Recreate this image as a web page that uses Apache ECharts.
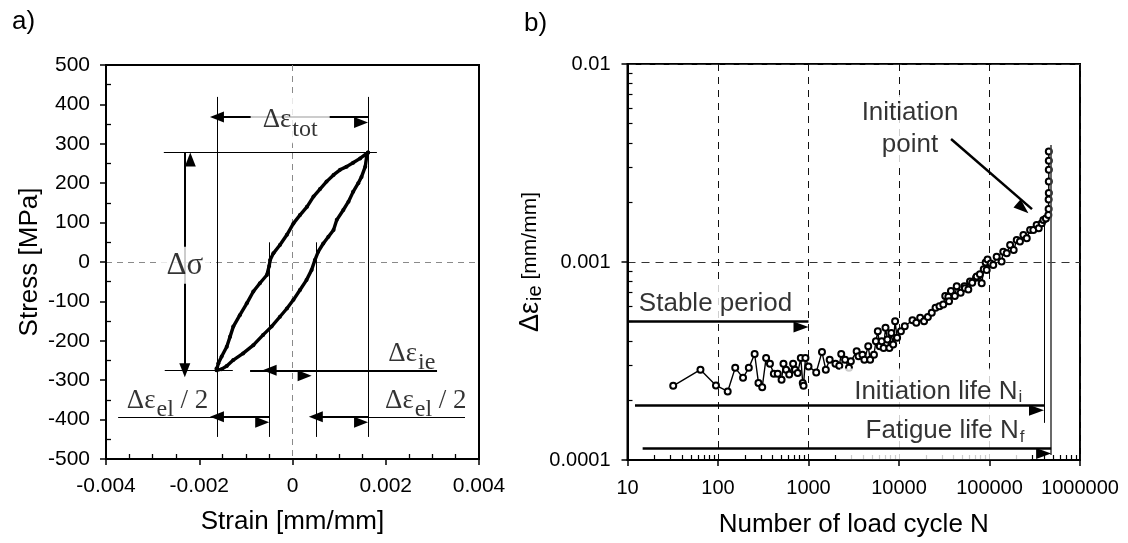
<!DOCTYPE html>
<html><head><meta charset="utf-8">
<script src="https://cdn.jsdelivr.net/npm/echarts@6/dist/echarts.min.js"></script>
<style>html,body{margin:0;padding:0;background:#fff}#c{width:1128px;height:543px}</style>
</head><body><div id="c"></div>
<script>
// ===== Panel a) : stress-strain hysteresis loop =====
const loopStrain = [0.00162, 0.00159, 0.00156, 0.00148, 0.00141, 0.0013, 0.0012, 0.00109, 0.00095, 0.00088, 0.00077, 0.00066, 0.00055, 0.00048, 0.00041, 0.0003, 0.00016, 0.00002, -0.00012, -0.00027, -0.00045, -0.00063, -0.00084, -0.00106, -0.00127, -0.00141, -0.00152, -0.00163,
  -0.00163, -0.00159, -0.00152, -0.00141, -0.00134, -0.00127, -0.00113, -0.00098, -0.00084, -0.0007, -0.00055, -0.0005, -0.00048, -0.00041, -0.00027, -0.00012, 0.00002, 0.00016, 0.00031, 0.00045, 0.00059, 0.00073, 0.00088, 0.00102, 0.00116, 0.0013, 0.00145, 0.00162];
const loopStress = [278, 267, 242, 216, 200, 178, 153, 132, 107, 81, 64, 47, 26, 5, -20, -46, -71, -96, -118, -139, -164, -185, -211, -232, -249, -264, -272, -275,
  -270, -257, -240, -215, -190, -164, -135, -105, -75, -54, -33, -10, 5, 22, 43, 69, 98, 119, 140, 166, 185, 204, 221, 234, 242, 252, 263, 278];
const strainTicks = ['-0.004', '-0.002', '0', '0.002', '0.004'];
// annotation guide segments [x1, y1, x2, y2]
const guidesA = [
  [-0.00162, 419, -0.00162, -444],
  [0.00162, 419, 0.00162, -444],
  [-0.0005, 50, -0.0005, -444],
  [0.0005, 50, 0.0005, -444],
  [-0.00276, 278, 0.00181, 278],
  [-0.00274, -275, -0.00128, -275],
  [-0.00374, -393, -0.00162, -393],
  [0.00162, -393, 0.0037, -393]
];
const ieLine = [-0.00091, -275, 0.0031, -275];
const arrowsA = [
  [-0.00162, 368, 0.00162, 368],
  [-0.00231, -275, -0.00231, 278],
  [-0.00049, -275, 0.00041, -275],
  [-0.00162, -393, -0.0005, -393],
  [0.0005, -393, 0.00162, -393]
];
const textsA = [
  { x: -0.00005, y: 362, t: '{a|Δε}{b|tot}', pad: [4, 12, 2, 12] },
  { x: -0.00231, y: -8, t: '{c|Δσ}', pad: [4, 7, 2, 7] },
  { x: 0.00256, y: -232, t: '{a|Δε}{b|ie}', pad: null },
  { x: -0.00268, y: -353, t: '{a|Δε}{b|el}{a| / 2}', pad: null },
  { x: 0.00286, y: -353, t: '{a|Δε}{b|el}{a| / 2}', pad: null }
];

// ===== Panel b) : inelastic strain range vs cycles =====
const cycles = [32, 64, 95, 128, 155, 189, 219, 254, 280, 308, 340, 375, 414, 457, 504, 529, 566, 612, 676, 710,
  760, 822, 864, 881, 925, 1000, 1217, 1409, 1553, 1714, 1986, 2188, 2300, 2536, 2799, 2938, 3404, 3573, 3945, 4142,
  4572, 4800, 5289, 5556, 5834, 6125, 6438, 6760, 7096, 7447, 7834, 8222, 8630, 9057, 9528, 10500, 11580, 14090, 15530, 17140,
  18920, 20850, 23010, 25350, 28000, 30830, 32430, 35100, 35730, 37500, 41400, 43450, 47970, 52840, 53600, 58340, 60900, 64400, 70970, 72200,
  78340, 82000, 86360, 90630, 93100, 95200, 103000, 110000, 120000, 136000, 142000, 155000, 169000, 185000, 200000, 217000, 237000, 258000, 281000, 305000,
  332000, 350000, 378000, 394000, 420000, 447000, 450000, 450000, 452000, 452000, 452000, 452000, 452000];
const strainRange = [2.37e-4, 2.86e-4, 2.38e-4, 2.22e-4, 2.92e-4, 2.60e-4, 2.92e-4, 3.43e-4, 2.45e-4, 2.33e-4, 3.27e-4, 3.06e-4, 2.73e-4, 2.73e-4, 2.54e-4, 3.06e-4, 2.86e-4, 2.70e-4, 3.06e-4, 2.86e-4,
  2.75e-4, 3.27e-4, 2.45e-4, 2.37e-4, 3.27e-4, 2.97e-4, 2.77e-4, 3.51e-4, 2.86e-4, 3.21e-4, 3.06e-4, 2.99e-4, 3.43e-4, 3.21e-4, 2.92e-4, 3.15e-4, 3.54e-4, 3.34e-4, 3.40e-4, 3.21e-4,
  3.75e-4, 3.21e-4, 3.40e-4, 3.98e-4, 4.47e-4, 3.75e-4, 3.98e-4, 3.68e-4, 4.65e-4, 4.06e-4, 3.68e-4, 4.38e-4, 3.83e-4, 5.02e-4, 4.14e-4, 4.47e-4, 4.74e-4, 5.08e-4, 4.93e-4, 5.23e-4,
  5.02e-4, 5.28e-4, 5.54e-4, 5.87e-4, 5.98e-4, 6.10e-4, 6.73e-4, 6.68e-4, 6.34e-4, 7.13e-4, 6.73e-4, 7.55e-4, 7.00e-4, 7.55e-4, 7.37e-4, 7.27e-4, 7.96e-4, 7.86e-4, 8.33e-4, 8.44e-4,
  8.66e-4, 7.80e-4, 9.18e-4, 9.93e-4, 9.12e-4, 1.03e-3, 9.84e-4, 9.66e-4, 1.064e-3, 1.005e-3, 1.127e-3, 1.107e-3, 1.219e-3, 1.15e-3, 1.291e-3, 1.27e-3, 1.368e-3, 1.32e-3, 1.452e-3, 1.45e-3,
  1.538e-3, 1.48e-3, 1.57e-3, 1.63e-3, 1.66e-3, 1.726e-3, 1.85e-3, 2.07e-3, 2.23e-3, 2.55e-3, 2.92e-3, 3.25e-3, 3.62e-3];
const cycleTickLabels = ['10', '100', '1000', '10000', '100000', '1000000'];
const rangeTickLabels = ['0.0001', '0.001', '0.01'];
const cycleDecades = [10, 100, 1000, 10000, 100000];
const rangeDecades = [0.0001, 0.001];
const minorMultipliers = [2, 3, 4, 5, 6, 7, 8, 9];
const Ni = 400000, Nf = 480000;
const niLine = [Ni, 1.6e-3, Ni, 1.54e-4];
const nfLine = [Nf, 3.9e-3, Nf, 1.06e-4];
const arrowsB = [
  [10, 5e-4, 1000, 5e-4],
  [12.1, 1.9e-4, Ni, 1.9e-4],
  [14.7, 1.15e-4, Nf, 1.15e-4],
  [37600, 4.18e-3, 295000, 1.85e-3]
];
const textsB = [
  { x: 93.8, y: 6.14e-4, t: '{m|Stable period}', pad: [3, 6, 3, 6] },
  { x: 24500, y: 2.26e-4, t: '{m|Initiation life N}{s|i}', pad: [7, 6, 4, 14] },
  { x: 25000, y: 1.35e-4, t: '{m|Fatigue life N}{s|f}', pad: [6, 6, 12, 26] },
  { x: 13250, y: 4.70e-3, t: '{m|Initiation}\n{m|point}', pad: [2, 4, 2, 4] }
];

// ---------- build ----------
const minorX = [], minorY = [];
cycleDecades.forEach(d => minorMultipliers.forEach(m => minorX.push(d * m)));
rangeDecades.forEach(d => minorMultipliers.forEach(m => minorY.push(+(d * m).toPrecision(3))));

const K = '#000';
const FONT = 'Liberation Sans';
const SERIF = 'Liberation Serif';
function seg(s, style, sym1, sym2) {
  return [{ coord: [s[0], s[1]], symbol: sym1 || 'none', lineStyle: style },
          { coord: [s[2], s[3]], symbol: sym2 || 'none' }];
}
const thin = { color: K, width: 1, type: 'solid' };
const arrowStyle = { color: K, width: 2, type: 'solid' };

const mainAxis = (extra) => Object.assign({
  axisLine: { show: true, onZero: false, lineStyle: { color: K, width: 2 } },
  axisTick: { show: true, inside: false, length: 6, lineStyle: { color: K, width: 1.5 } },
  splitLine: { show: false },
  nameTextStyle: { color: K, fontSize: 26, fontFamily: FONT }
}, extra);
const minorAxis = (extra) => Object.assign({
  axisLine: { show: false, onZero: false },
  axisLabel: { show: false },
  splitLine: { show: false }
}, extra);

const option = {
  animation: false,
  backgroundColor: '#fff',
  textStyle: { fontFamily: FONT },
  graphic: [
    { type: 'text', left: 12, top: 9, style: { text: 'a)', font: '26px "Liberation Sans"', fill: K } },
    { type: 'text', left: 524, top: 11, style: { text: 'b)', font: '26px "Liberation Sans"', fill: K } }
  ],
  grid: [
    { left: 106, top: 65, width: 373, height: 394, show: true, borderColor: K, borderWidth: 2, backgroundColor: 'transparent' },
    { left: 627.5, top: 64, width: 452.5, height: 396, show: true, borderColor: K, borderWidth: 2, backgroundColor: 'transparent' }
  ],
  xAxis: [
    mainAxis({ gridIndex: 0, type: 'value', min: -0.004, max: 0.004, interval: 0.002, position: 'bottom',
      axisLabel: { color: K, fontSize: 21, fontFamily: FONT, margin: 17, formatter: (v, i) => strainTicks[i] },
      name: 'Strain [mm/mm]', nameLocation: 'middle', nameGap: 50 }),
    minorAxis({ gridIndex: 0, type: 'value', min: -0.004, max: 0.004, interval: 0.002, position: 'bottom',
      axisTick: { show: false, inside: true, customValues: [0] },
      minorTick: { show: true, splitNumber: 4, length: 5, lineStyle: { color: K, width: 1.3 } },
      splitLine: { show: true, lineStyle: { color: '#8a8a8a', width: 1, type: [6, 5] } } }),
    mainAxis({ gridIndex: 1, type: 'log', logBase: 10, min: 10, max: 1000000, position: 'bottom',
      axisLabel: { color: K, fontSize: 20, fontFamily: FONT, margin: 18,
        formatter: v => cycleTickLabels[Math.round(Math.log10(v)) - 1] },
      splitLine: { show: true, lineStyle: { color: '#111', width: 1, type: [7, 6] } },
      name: 'Number of load cycle N', nameLocation: 'middle', nameGap: 52 }),
    minorAxis({ gridIndex: 1, type: 'log', logBase: 10, min: 10, max: 1000000, position: 'bottom',
      axisTick: { show: true, inside: true, customValues: minorX, length: 5, lineStyle: { color: K, width: 1.2 } } })
  ],
  yAxis: [
    mainAxis({ gridIndex: 0, type: 'value', min: -500, max: 500, interval: 100, position: 'left',
      axisLabel: { color: K, fontSize: 21, fontFamily: FONT, margin: 16 },
      name: 'Stress [MPa]', nameLocation: 'middle', nameRotate: 90, nameGap: 63 }),
    minorAxis({ gridIndex: 0, type: 'value', min: -500, max: 500, interval: 100, position: 'left',
      axisTick: { show: false, inside: true, customValues: [0] },
      minorTick: { show: true, splitNumber: 2, length: 5, lineStyle: { color: K, width: 1.3 } },
      splitLine: { show: true, lineStyle: { color: '#8a8a8a', width: 1, type: [6, 5] } } }),
    mainAxis({ gridIndex: 1, type: 'log', logBase: 10, min: 0.0001, max: 0.01, position: 'left',
      axisLabel: { color: K, fontSize: 20, fontFamily: FONT, margin: 17,
        formatter: v => rangeTickLabels[Math.round(Math.log10(v)) + 4] },
      splitLine: { show: true, lineStyle: { color: '#333', width: 1, type: [8, 6] } },
      name: '{a|Δε}{b|ie}{c| [mm/mm]}', nameLocation: 'middle', nameRotate: 90, nameGap: 70,
      nameTextStyle: { color: K, rich: {
        a: { fontSize: 27, fontFamily: FONT, color: K },
        b: { fontSize: 20, fontFamily: FONT, color: K, padding: [10, 0, 0, 1] },
        c: { fontSize: 21, fontFamily: FONT, color: K } } } }),
    minorAxis({ gridIndex: 1, type: 'log', logBase: 10, min: 0.0001, max: 0.01, position: 'left',
      axisTick: { show: true, inside: true, customValues: minorY, length: 5, lineStyle: { color: K, width: 1.2 } } })
  ],
  series: [
    {
      type: 'line', xAxisIndex: 0, yAxisIndex: 0, z: 2,
      data: loopStrain.map((x, i) => [x, loopStress[i]]),
      symbol: 'circle', symbolSize: 4, showSymbol: true,
      itemStyle: { color: K },
      lineStyle: { color: K, width: 3.4 },
      markLine: {
        silent: true, label: { show: false }, symbolSize: [11, 14], symbolOffset: [0, '50%'],
        emphasis: { disabled: true },
        data: [].concat(
          guidesA.map(s => seg(s, thin)),
          [seg(ieLine, { color: K, width: 1.8, type: 'solid' })],
          arrowsA.map(s => seg(s, arrowStyle, 'triangle', 'triangle'))
        )
      }
    },
    {
      type: 'scatter', xAxisIndex: 0, yAxisIndex: 0, z: 10, silent: true,
      symbolSize: 0.1, itemStyle: { color: 'transparent' },
      data: textsA.map(o => ({
        value: [o.x, o.y],
        label: {
          show: true, position: 'inside', formatter: o.t, color: K,
          backgroundColor: o.pad ? '#fff' : 'transparent', padding: o.pad || 0,
          rich: {
            a: { fontFamily: SERIF, fontSize: 27, color: K },
            b: { fontFamily: SERIF, fontSize: 24, color: K, padding: [18, 0, 0, 1] },
            c: { fontFamily: SERIF, fontSize: 31, color: K }
          }
        }
      }))
    },
    {
      type: 'line', xAxisIndex: 2, yAxisIndex: 2, z: 2,
      data: cycles.map((n, i) => [n, strainRange[i]]),
      symbol: 'emptyCircle', symbolSize: 6, showSymbol: true,
      itemStyle: { color: K, borderColor: K, borderWidth: 1.3 },
      lineStyle: { color: K, width: 1.4 },
      markLine: {
        silent: true, label: { show: false }, symbolSize: [11, 15], symbolOffset: [0, '50%'],
        emphasis: { disabled: true },
        data: [].concat(
          [seg(niLine, { color: K, width: 1, type: 'solid' })],
          [seg(nfLine, { color: '#444', width: 1.6, type: 'solid' })],
          arrowsB.map(s => seg(s, { color: K, width: 2.5, type: 'solid' }, 'none', 'triangle'))
        )
      }
    },
    {
      type: 'scatter', xAxisIndex: 2, yAxisIndex: 2, z: 3, silent: true,
      symbolSize: 0.1, itemStyle: { color: 'transparent' },
      data: textsB.map(o => ({
        value: [o.x, o.y],
        label: {
          show: true, position: 'inside', formatter: o.t, color: K, align: 'center',
          backgroundColor: '#fff', padding: o.pad, lineHeight: 32,
          rich: {
            m: { fontFamily: FONT, fontSize: 26, color: K, lineHeight: 32 },
            s: { fontFamily: FONT, fontSize: 17, color: K, padding: [12, 0, 0, 1] }
          }
        }
      }))
    }
  ]
};
const chart = echarts.init(document.getElementById('c'), null, { renderer: 'canvas' });
chart.setOption(option);
</script>
</body></html>
